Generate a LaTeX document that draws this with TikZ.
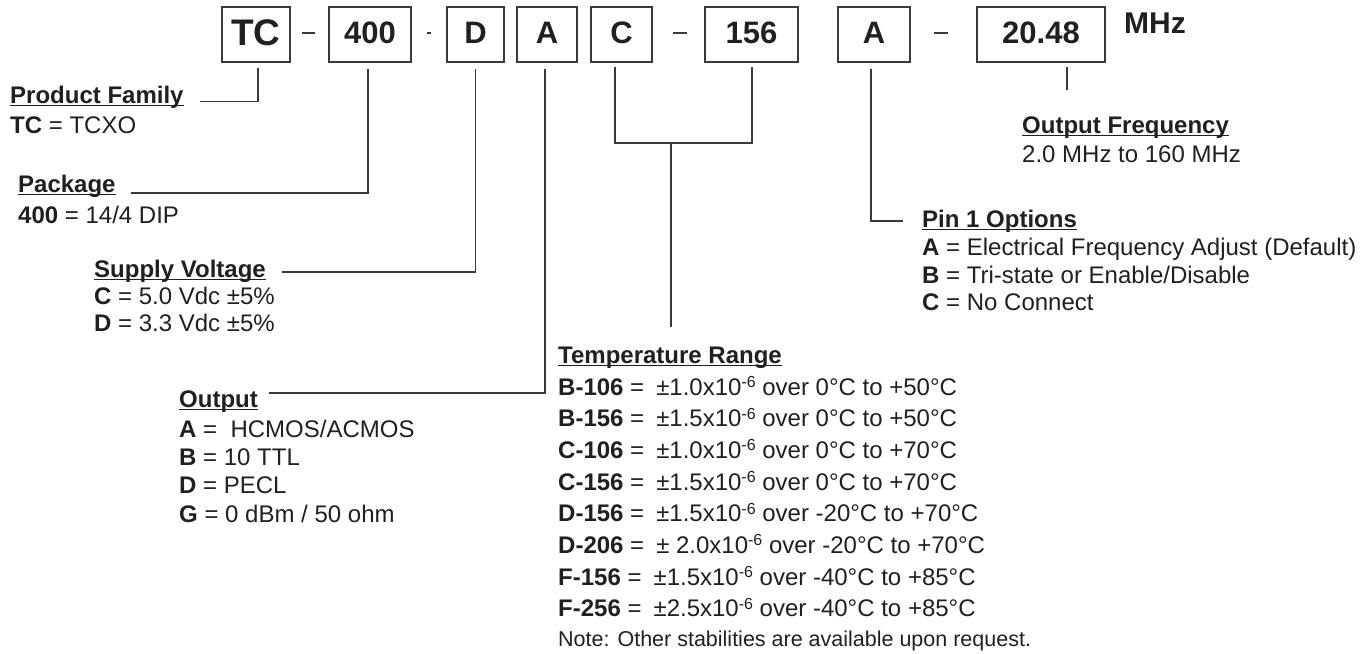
\documentclass[tikz,border=0pt]{standalone}
\usepackage{fontspec}
\setmainfont{Liberation Sans}
\definecolor{ink}{HTML}{231F20}
\definecolor{wire}{HTML}{3A3A3A}
\newcommand\myul[1]{\setbox0\hbox{#1}\rlap{\rule[-3.2pt]{\wd0}{1.3pt}}\box0}
\newcommand\sxm{x10\raisebox{7.5pt}{\fontsize{16}{16}\selectfont -6}}
\newcommand\eqg{=\hspace{12pt}}
\begin{document}
\begin{tikzpicture}[x=1pt,y=-1pt,
  ln/.style={line width=1.3pt, draw=wire},
  cbox/.style={draw=wire, line width=1.3pt, minimum height=55pt, inner sep=0pt, text=ink,
    text depth=4pt, font=\fontsize{31}{32}\selectfont\bfseries},
  lbl/.style={anchor=base west, inner sep=0pt, text=ink, font=\fontsize{24}{28}\selectfont},
]
\useasboundingbox[fill=white] (0,0) rectangle (1372,653);

% ---- code boxes
\node[cbox, minimum width=68pt, font=\fontsize{37}{38}\selectfont\bfseries] (tc) at (256,34.5) {TC};
\node[cbox, minimum width=82pt] (f400) at (370,34.5) {400};
\node[cbox, minimum width=57pt] (d) at (475.5,34.5) {D};
\node[cbox, minimum width=60pt] (a) at (547,34.5) {A};
\node[cbox, minimum width=61pt] (c) at (621.5,34.5) {C};
\node[cbox, minimum width=93pt] (s156) at (751.5,34.5) {156};
\node[cbox, minimum width=72pt] (a2) at (874,34.5) {A};
\node[cbox, minimum width=128pt] (fr) at (1041,34.5) {20.48};
\node[lbl, font=\fontsize{30}{32}\selectfont\bfseries] (mhz) at (1124,33) {MHz};

% ---- separator dashes
\draw[ln] (302,33) -- (315,33);
\draw[ln] (427,33) -- (431,33);
\draw[ln] (673,33) -- (687,33);
\draw[ln] (934,33) -- (948,33);

% ---- labels
\node[lbl] (pf) at (10,103) {\bfseries\myul{Product Family}};
\node[lbl] (pf1) at (10,133) {\textbf{TC} = TCXO};

\node[lbl] (pk) at (18,192) {\bfseries\myul{Package}};
\node[lbl] (pk1) at (18,223) {\textbf{400} = 14/4 DIP};

\node[lbl] (sv) at (94,277) {\bfseries\myul{Supply Voltage}};
\node[lbl] (sv1) at (94,304) {\textbf{C} = 5.0 Vdc ±5\%};
\node[lbl] (sv2) at (94,331) {\textbf{D} = 3.3 Vdc ±5\%};

\node[lbl] (op) at (179,407) {\bfseries\myul{Output}};
\node[lbl] (op1) at (179,437) {\textbf{A} = \ HCMOS/ACMOS};
\node[lbl] (op2) at (179,465) {\textbf{B} = 10 TTL};
\node[lbl] (op3) at (179,493) {\textbf{D} = PECL};
\node[lbl] (op4) at (179,522) {\textbf{G} = 0 dBm / 50 ohm};

\node[lbl] (tr) at (558,363) {\bfseries\myul{Temperature Range}};
\node[lbl] (tr1) at (558,395) {\textbf{B-106} \eqg±1.0\sxm{} over 0°C to +50°C};
\node[lbl] (tr2) at (558,426.7) {\textbf{B-156} \eqg±1.5\sxm{} over 0°C to +50°C};
\node[lbl] (tr3) at (558,458.3) {\textbf{C-106} \eqg±1.0\sxm{} over 0°C to +70°C};
\node[lbl] (tr4) at (558,490) {\textbf{C-156} \eqg±1.5\sxm{} over 0°C to +70°C};
\node[lbl] (tr5) at (558,521.7) {\textbf{D-156} \eqg±1.5\sxm{} over -20°C to +70°C};
\node[lbl] (tr6) at (558,553.3) {\textbf{D-206} \eqg± 2.0\sxm{} over -20°C to +70°C};
\node[lbl] (tr7) at (558,585) {\textbf{F-156} \eqg±1.5\sxm{} over -40°C to +85°C};
\node[lbl] (tr8) at (558,616.7) {\textbf{F-256} \eqg±2.5\sxm{} over -40°C to +85°C};
\node[lbl, font=\fontsize{21.5}{26}\selectfont] (tr9) at (558,646.7) {Note: Other stabilities are available upon request.};

\node[lbl] (of) at (1022,133) {\bfseries\myul{Output Frequency}};
\node[lbl] (of1) at (1022,162) {2.0 MHz to 160 MHz};

\node[lbl] (p1) at (922,227) {\bfseries\myul{Pin 1 Options}};
\node[lbl] (p11) at (922,255) {\textbf{A} = Electrical Frequency Adjust (Default)};
\node[lbl] (p12) at (922,283) {\textbf{B} = Tri-state or Enable/Disable};
\node[lbl] (p13) at (922,310) {\textbf{C} = No Connect};

% ---- connector end points
\coordinate (pfc) at (200,101.5);
\coordinate (pkc) at (131,193);
\coordinate (svc) at (282,272);
\coordinate (opc) at (269,393);
\coordinate (brl) at (615,143);
\coordinate (brr) at (752,143);
\coordinate (brm) at (671,143);
\coordinate (trc) at (671,327);
\coordinate (p1c) at (903,221);
\coordinate (frc) at (1067,90);

% ---- connectors
\draw[ln] ([yshift=-5pt]tc.south) ++(2,0) |- (pfc);
\draw[ln] ([yshift=-6pt]f400.south) ++(-2,0) |- (pkc);
\draw[ln] ([yshift=-6pt]d.south) |- (svc);
\draw[ln] ([yshift=-6pt]a.south) ++(-2,0) |- (opc);
\draw[ln] ([yshift=-4pt]c.south -| brl) -- (brl) -- (brr) -- ([yshift=-4pt]s156.south -| brr);
\draw[ln] (brm) -- (trc);
\draw[ln] ([yshift=-6pt]a2.south) ++(-3,0) |- (p1c);
\draw[ln] ([yshift=-4pt]fr.south -| frc) -- (frc);
\end{tikzpicture}
\end{document}
